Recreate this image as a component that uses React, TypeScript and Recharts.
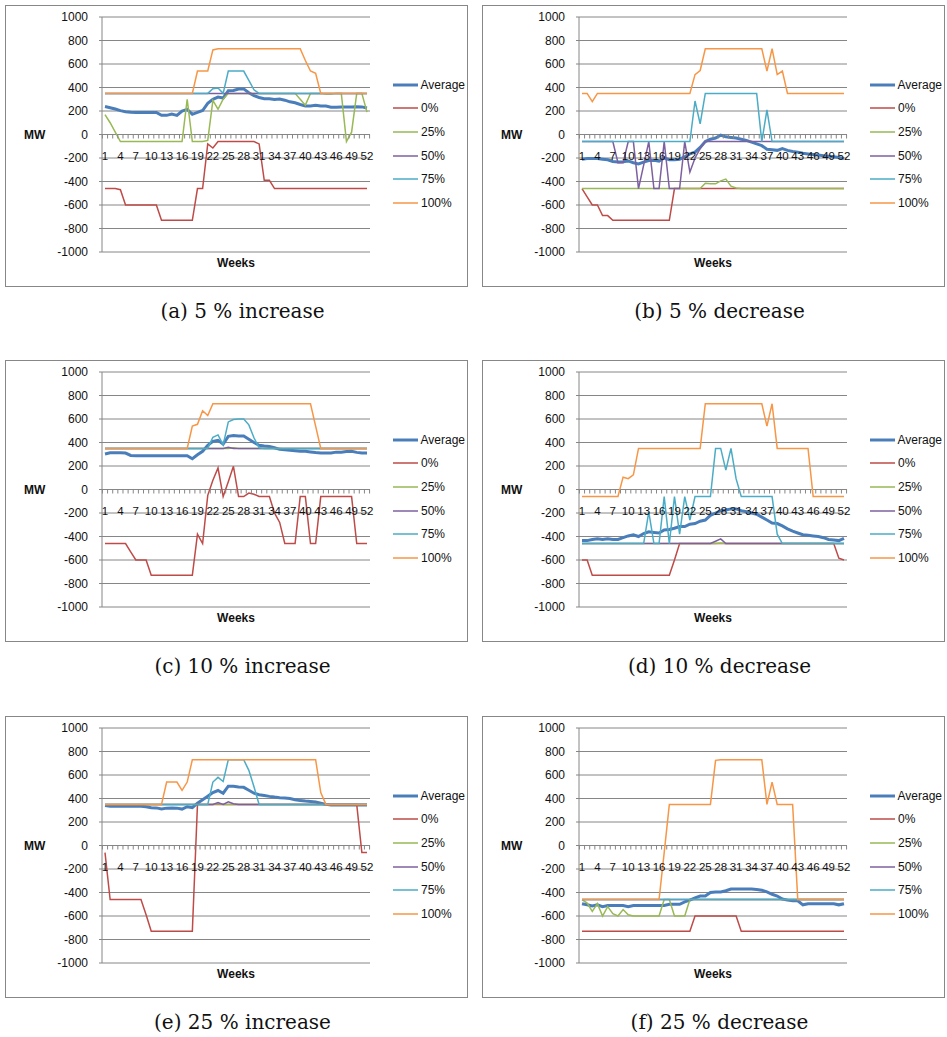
import React from 'react'
import { CartesianGrid, Label, Legend, Line, LineChart, XAxis, YAxis } from 'recharts'

const weeks = [
  1, 2, 3, 4, 5, 6, 7, 8, 9, 10, 11, 12, 13,
  14, 15, 16, 17, 18, 19, 20, 21, 22, 23, 24, 25, 26,
  27, 28, 29, 30, 31, 32, 33, 34, 35, 36, 37, 38, 39,
  40, 41, 42, 43, 44, 45, 46, 47, 48, 49, 50, 51, 52,
]
const yTicks = [-1000, -800, -600, -400, -200, 0, 200, 400, 600, 800, 1000]
const seriesKeys = ['avg', 'p0', 'p25', 'p50', 'p75', 'p100']
const seriesNames = ['Average', '0%', '25%', '50%', '75%', '100%']
const seriesColors = ['#4A7EBB', '#BE4B48', '#98B954', '#7D60A0', '#4BACC6', '#F79646']
const seriesWidths = [3, 1.5, 1.5, 1.5, 1.5, 1.5]

// (a) 5 % increase
const aAvg = [
  238, 228, 217, 203, 194, 190, 188, 188, 188, 188, 188, 163, 163,
  174, 163, 200, 214, 172, 188, 204, 265, 300, 318, 310, 372, 374,
  387, 388, 355, 330, 315, 305, 305, 298, 302, 292, 278, 270, 255,
  243, 243, 248, 242, 242, 232, 232, 235, 235, 235, 236, 235, 226,
]
const a0 = [
  -460, -460, -460, -470, -600, -600, -600, -600, -600, -600, -600, -730, -730,
  -730, -730, -730, -730, -730, -460, -460, -80, -115, -60, -60, -60, -60,
  -60, -60, -60, -60, -80, -390, -390, -460, -460, -460, -460, -460, -460,
  -460, -460, -460, -460, -460, -460, -460, -460, -460, -460, -460, -460, -460,
]
const a25 = [
  170, 100, 20, -60, -60, -60, -60, -60, -60, -60, -60, -60, -60,
  -60, -60, -60, 300, -60, -60, -60, -50, 290, 215, 300, 350, 350,
  350, 350, 350, 350, 350, 350, 350, 350, 350, 350, 350, 350, 300,
  250, 350, 350, 350, 345, 345, 350, 350, -60, 20, 350, 350, 190,
]
const a50 = [
  350, 350, 350, 350, 350, 350, 350, 350, 350, 350, 350, 350, 350,
  350, 350, 350, 350, 350, 350, 350, 350, 350, 350, 350, 350, 350,
  350, 350, 350, 350, 350, 350, 350, 350, 350, 350, 350, 350, 350,
  350, 350, 350, 350, 350, 350, 350, 350, 350, 350, 350, 350, 350,
]
const a75 = [
  350, 350, 350, 350, 350, 350, 350, 350, 350, 350, 350, 350, 350,
  350, 350, 350, 350, 350, 350, 350, 350, 390, 395, 350, 540, 540,
  540, 540, 460, 380, 350, 350, 350, 350, 350, 350, 350, 350, 350,
  350, 350, 350, 350, 350, 350, 350, 350, 350, 350, 350, 350, 350,
]
const a100 = [
  350, 350, 350, 350, 350, 350, 350, 350, 350, 350, 350, 350, 350,
  350, 350, 350, 350, 350, 540, 540, 540, 720, 730, 730, 730, 730,
  730, 730, 730, 730, 730, 730, 730, 730, 730, 730, 730, 730, 730,
  630, 540, 520, 350, 350, 350, 350, 350, 350, 350, 350, 350, 350,
]

// (b) 5 % decrease
const bAvg = [
  -210, -205, -205, -205, -210, -215, -230, -235, -232, -225, -240, -250, -235,
  -222, -220, -228, -200, -215, -215, -210, -190, -165, -150, -110, -60, -40,
  -30, -5, -20, -25, -30, -40, -50, -65, -80, -95, -125, -130, -135,
  -120, -135, -145, -150, -160, -165, -170, -175, -180, -185, -190, -195, -205,
]
const b0 = [
  -460, -530, -600, -600, -690, -690, -730, -730, -730, -730, -730, -730, -730,
  -730, -730, -730, -730, -730, -460, -460, -460, -460, -460, -460, -460, -460,
  -460, -460, -460, -460, -460, -460, -460, -460, -460, -460, -460, -460, -460,
  -460, -460, -460, -460, -460, -460, -460, -460, -460, -460, -460, -460, -460,
]
const b25 = [
  -460, -460, -460, -460, -460, -460, -460, -460, -460, -460, -460, -460, -460,
  -460, -460, -460, -460, -460, -460, -460, -460, -460, -460, -460, -415, -420,
  -420, -395, -380, -440, -455, -460, -460, -460, -460, -460, -460, -460, -460,
  -460, -460, -460, -460, -460, -460, -460, -460, -460, -460, -460, -460, -460,
]
const b50 = [
  -60, -60, -60, -60, -60, -60, -60, -240, -240, -60, -60, -460, -260,
  -60, -460, -460, -60, -460, -460, -460, -60, -320, -200, -120, -60, -60,
  -60, -60, -60, -60, -60, -60, -60, -60, -60, -60, -60, -60, -60,
  -60, -60, -60, -60, -60, -60, -60, -60, -60, -60, -60, -60, -60,
]
const b75 = [
  -60, -60, -60, -60, -60, -60, -60, -60, -60, -60, -60, -60, -60,
  -60, -60, -60, -60, -60, -60, -60, -60, -60, 285, 90, 350, 350,
  350, 350, 350, 350, 350, 350, 350, 350, 350, -60, 210, -60, -60,
  -60, -60, -60, -60, -60, -60, -60, -60, -60, -60, -60, -60, -60,
]
const b100 = [
  350, 350, 280, 350, 350, 350, 350, 350, 350, 350, 350, 350, 350,
  350, 350, 350, 350, 350, 350, 350, 350, 350, 510, 545, 730, 730,
  730, 730, 730, 730, 730, 730, 730, 730, 730, 730, 540, 730, 510,
  540, 350, 350, 350, 350, 350, 350, 350, 350, 350, 350, 350, 350,
]

// (c) 10 % increase
const cAvg = [
  302, 312, 312, 312, 310, 290, 288, 288, 288, 288, 288, 288, 288,
  288, 288, 288, 288, 262, 295, 325, 376, 410, 418, 387, 452, 460,
  456, 455, 428, 400, 376, 370, 366, 355, 342, 338, 334, 330, 326,
  325, 320, 314, 310, 310, 311, 318, 318, 323, 325, 316, 310, 310,
]
const c0 = [
  -460, -460, -460, -460, -460, -530, -600, -600, -600, -730, -730, -730, -730,
  -730, -730, -730, -730, -730, -380, -460, -50, 78, 183, -60, 65, 197,
  -60, -60, -30, -40, -60, -60, -60, -200, -280, -460, -460, -460, -60,
  -60, -460, -460, -60, -60, -60, -60, -60, -60, -60, -460, -460, -460,
]
const c25 = [
  350, 350, 350, 350, 350, 350, 350, 350, 350, 350, 350, 350, 350,
  350, 350, 350, 350, 350, 350, 350, 350, 350, 350, 350, 350, 355,
  350, 350, 350, 350, 350, 350, 350, 350, 350, 350, 350, 350, 350,
  350, 350, 350, 350, 350, 350, 350, 350, 350, 350, 350, 350, 350,
]
const c50 = [
  350, 350, 350, 350, 350, 350, 350, 350, 350, 350, 350, 350, 350,
  350, 350, 350, 350, 350, 350, 350, 350, 350, 350, 350, 360, 350,
  350, 350, 350, 350, 350, 350, 350, 350, 350, 350, 350, 350, 350,
  350, 350, 350, 350, 350, 350, 350, 350, 350, 350, 350, 350, 350,
]
const c75 = [
  350, 350, 350, 350, 350, 350, 350, 350, 350, 350, 350, 350, 350,
  350, 350, 350, 350, 350, 350, 350, 350, 445, 465, 380, 575, 595,
  600, 600, 550, 440, 355, 350, 350, 350, 350, 350, 350, 350, 350,
  350, 350, 350, 350, 350, 350, 350, 350, 350, 350, 350, 350, 350,
]
const c100 = [
  350, 350, 350, 350, 350, 350, 350, 350, 350, 350, 350, 350, 350,
  350, 350, 350, 350, 540, 555, 670, 630, 730, 730, 730, 730, 730,
  730, 730, 730, 730, 730, 730, 730, 730, 730, 730, 730, 730, 730,
  730, 730, 540, 350, 350, 350, 350, 350, 350, 350, 350, 350, 350,
]

// (d) 10 % decrease
const dAvg = [
  -435, -435, -425, -420, -425, -420, -425, -425, -410, -395, -385, -400, -375,
  -360, -365, -370, -345, -340, -330, -315, -315, -295, -290, -270, -260, -220,
  -200, -180, -175, -165, -165, -180, -190, -200, -210, -235, -260, -285, -290,
  -310, -335, -355, -370, -385, -390, -395, -400, -410, -425, -430, -435, -415,
]
const d0 = [
  -600, -600, -730, -730, -730, -730, -730, -730, -730, -730, -730, -730, -730,
  -730, -730, -730, -730, -730, -600, -460, -460, -460, -460, -460, -460, -460,
  -460, -460, -460, -460, -460, -460, -460, -460, -460, -460, -460, -460, -460,
  -460, -460, -460, -460, -460, -460, -460, -460, -460, -460, -460, -585, -600,
]
const d25 = [
  -460, -460, -460, -460, -460, -460, -460, -460, -460, -460, -460, -460, -460,
  -460, -460, -460, -460, -460, -460, -460, -460, -460, -460, -460, -460, -460,
  -460, -455, -460, -460, -460, -460, -460, -460, -460, -460, -460, -460, -460,
  -460, -460, -460, -460, -460, -460, -460, -460, -460, -460, -460, -460, -460,
]
const d50 = [
  -460, -460, -460, -460, -460, -460, -460, -460, -460, -460, -460, -460, -460,
  -460, -460, -460, -460, -460, -460, -460, -460, -460, -460, -460, -460, -460,
  -440, -420, -460, -460, -460, -460, -460, -460, -460, -460, -460, -460, -460,
  -460, -460, -460, -460, -460, -460, -460, -460, -460, -460, -460, -460, -460,
]
const d75 = [
  -460, -460, -460, -460, -460, -460, -460, -460, -460, -460, -460, -460, -460,
  -190, -460, -460, -60, -460, -60, -380, -60, -260, -60, -60, -60, -60,
  350, 350, 165, 350, 90, -60, -60, -60, -60, -60, -60, -60, -380,
  -460, -460, -460, -460, -460, -460, -460, -460, -460, -460, -460, -460, -460,
]
const d100 = [
  -60, -60, -60, -60, -60, -60, -60, -60, 105, 92, 125, 350, 350,
  350, 350, 350, 350, 350, 350, 350, 350, 350, 350, 350, 730, 730,
  730, 730, 730, 730, 730, 730, 730, 730, 730, 730, 540, 730, 350,
  350, 350, 350, 350, 350, 350, -60, -60, -60, -60, -60, -60, -60,
]

// (e) 25 % increase
const eAvg = [
  340, 335, 335, 335, 335, 335, 335, 335, 330, 322, 320, 310, 318,
  320, 318, 310, 330, 322, 360, 390, 420, 450, 468, 445, 505, 505,
  498, 495, 470, 445, 432, 425, 418, 412, 407, 405, 400, 390, 382,
  378, 375, 370, 360, 350, 345, 345, 345, 345, 345, 345, 345, 345,
]
const e0 = [
  -60, -460, -460, -460, -460, -460, -460, -460, -590, -730, -730, -730, -730,
  -730, -730, -730, -730, -730, 350, 350, 350, 350, 350, 350, 350, 350,
  350, 350, 350, 350, 350, 350, 350, 350, 350, 350, 350, 350, 350,
  350, 350, 350, 350, 350, 350, 350, 350, 350, 350, 350, -60, -60,
]
const e25 = [
  350, 350, 350, 350, 350, 350, 350, 350, 350, 350, 350, 350, 350,
  350, 350, 350, 350, 350, 350, 350, 350, 350, 355, 350, 350, 350,
  350, 350, 350, 350, 350, 350, 350, 350, 350, 350, 350, 350, 350,
  350, 350, 350, 350, 350, 350, 350, 350, 350, 350, 350, 350, 350,
]
const e50 = [
  350, 350, 350, 350, 350, 350, 350, 350, 350, 350, 350, 350, 350,
  350, 350, 350, 350, 350, 350, 350, 350, 350, 365, 350, 372, 355,
  350, 350, 350, 350, 350, 350, 350, 350, 350, 350, 350, 350, 350,
  350, 350, 350, 350, 350, 350, 350, 350, 350, 350, 350, 350, 350,
]
const e75 = [
  350, 350, 350, 350, 350, 350, 350, 350, 350, 350, 350, 350, 350,
  350, 350, 350, 350, 350, 350, 350, 350, 540, 580, 545, 730, 730,
  730, 730, 640, 500, 350, 350, 350, 350, 350, 350, 350, 350, 350,
  350, 350, 350, 350, 350, 350, 350, 350, 350, 350, 350, 350, 350,
]
const e100 = [
  350, 350, 350, 350, 350, 350, 350, 350, 350, 350, 350, 350, 540,
  540, 540, 470, 540, 730, 730, 730, 730, 730, 730, 730, 730, 730,
  730, 730, 730, 730, 730, 730, 730, 730, 730, 730, 730, 730, 730,
  730, 730, 730, 450, 350, 350, 350, 350, 350, 350, 350, 350, 350,
]

// (f) 25 % decrease
const fAvg = [
  -495, -505, -515, -505, -520, -510, -510, -510, -510, -520, -510, -510, -510,
  -510, -510, -510, -510, -500, -500, -500, -480, -465, -445, -430, -430, -400,
  -395, -395, -385, -370, -370, -370, -370, -370, -375, -380, -395, -415, -430,
  -455, -465, -470, -470, -505, -495, -495, -495, -495, -495, -495, -505, -495,
]
const f0 = [
  -730, -730, -730, -730, -730, -730, -730, -730, -730, -730, -730, -730, -730,
  -730, -730, -730, -730, -730, -730, -730, -730, -730, -600, -600, -600, -600,
  -600, -600, -600, -600, -600, -730, -730, -730, -730, -730, -730, -730, -730,
  -730, -730, -730, -730, -730, -730, -730, -730, -730, -730, -730, -730, -730,
]
const f25 = [
  -460, -490, -560, -495, -600, -520, -580, -600, -545, -590, -600, -600, -600,
  -600, -600, -600, -460, -460, -600, -600, -600, -460, -460, -460, -460, -460,
  -460, -460, -460, -460, -460, -460, -460, -460, -460, -460, -460, -460, -460,
  -460, -460, -460, -460, -460, -460, -460, -460, -460, -460, -460, -460, -460,
]
const f50 = [
  -460, -460, -460, -460, -460, -460, -460, -460, -460, -460, -460, -460, -460,
  -460, -460, -460, -460, -460, -460, -460, -460, -460, -460, -460, -460, -460,
  -460, -460, -460, -460, -460, -460, -460, -460, -460, -460, -460, -460, -460,
  -460, -460, -460, -460, -460, -460, -460, -460, -460, -460, -460, -460, -460,
]
const f75 = [
  -460, -460, -460, -460, -460, -460, -460, -460, -460, -460, -460, -460, -460,
  -460, -460, -460, -460, -460, -460, -460, -460, -460, -460, -460, -460, -460,
  -460, -460, -460, -460, -460, -460, -460, -460, -460, -460, -460, -460, -460,
  -460, -460, -460, -460, -460, -460, -460, -460, -460, -460, -460, -460, -460,
]
const f100 = [
  -460, -460, -460, -460, -460, -460, -460, -460, -460, -460, -460, -460, -460,
  -460, -460, -460, -60, 350, 350, 350, 350, 350, 350, 350, 350, 350,
  725, 730, 730, 730, 730, 730, 730, 730, 730, 730, 350, 540, 350,
  350, 350, 350, -460, -460, -460, -460, -460, -460, -460, -460, -460, -460,
]

const panels = [
  { caption: '(a) 5 % increase', series: [aAvg, a0, a25, a50, a75, a100] },
  { caption: '(b) 5 % decrease', series: [bAvg, b0, b25, b50, b75, b100] },
  { caption: '(c) 10 % increase', series: [cAvg, c0, c25, c50, c75, c100] },
  { caption: '(d) 10 % decrease', series: [dAvg, d0, d25, d50, d75, d100] },
  { caption: '(e) 25 % increase', series: [eAvg, e0, e25, e50, e75, e100] },
  { caption: '(f) 25 % decrease', series: [fAvg, f0, f25, f50, f75, f100] },
]

const FONT = '"Liberation Sans", Arial, sans-serif'
const GRID = '#868686'
const PANEL_W = 463
const PANEL_H = 282
const CHART_W = PANEL_W - 2
const CHART_H = PANEL_H - 2
const MARGIN = { top: 11, right: 97, bottom: 0, left: 0 }
const Y_AXIS_W = 96
const PLOT_H = 235
const X_AXIS_H = CHART_H - MARGIN.top - PLOT_H
const PLOT_W = CHART_W - Y_AXIS_W - MARGIN.right
const X_PAD = 3
const HALF_STEP = (PLOT_W - 2 * X_PAD) / (weeks.length - 1) / 2
// the category axis crosses the value axis at 0
const ZERO_Y = MARGIN.top + PLOT_H / 2

const PANEL_LEFT = [5, 482]
const PANEL_TOP = [5, 360, 716]

function WeekTick(props: any) {
  const { x, payload, index } = props
  const showLabel = (payload.value - 1) % 3 === 0
  return (
    <g>
      <line x1={x - HALF_STEP} x2={x - HALF_STEP} y1={ZERO_Y} y2={ZERO_Y + 4} stroke={GRID} />
      {index === weeks.length - 1 && (
        <line x1={x + HALF_STEP} x2={x + HALF_STEP} y1={ZERO_Y} y2={ZERO_Y + 4} stroke={GRID} />
      )}
      {showLabel && (
        <text
          x={x}
          y={ZERO_Y + 21}
          textAnchor="middle"
          dominantBaseline="central"
          fontSize={11.5}
          fontFamily={FONT}
          fill="#111"
        >
          {payload.value}
        </text>
      )}
    </g>
  )
}

function LegendList() {
  return (
    <div style={{ fontFamily: FONT, fontSize: 12, color: '#111' }}>
      {seriesNames.map((name, i) => (
        <div key={name} style={{ display: 'flex', alignItems: 'center', height: 23.6 }}>
          <svg width={25} height={6} style={{ display: 'block' }}>
            <line x1={0} x2={25} y1={3} y2={3} stroke={seriesColors[i]} strokeWidth={seriesWidths[i]} />
          </svg>
          <span style={{ marginLeft: 3, lineHeight: '14px' }}>{name}</span>
        </div>
      ))}
    </div>
  )
}

function PanelChart({ series }: { series: number[][] }) {
  const data = weeks.map((week, j) => {
    const row: Record<string, number> = { week }
    seriesKeys.forEach((key, k) => {
      row[key] = series[k][j]
    })
    return row
  })

  return (
    <LineChart width={CHART_W} height={CHART_H} data={data} margin={MARGIN}>
      <CartesianGrid vertical={false} stroke={GRID} />
      <XAxis
        dataKey="week"
        interval={0}
        height={X_AXIS_H}
        padding={{ left: X_PAD, right: X_PAD }}
        axisLine={false}
        tickLine={false}
        tick={WeekTick}
      >
        <Label
          value="Weeks"
          position="insideBottom"
          offset={19}
          style={{ fontFamily: FONT, fontSize: 12, fontWeight: 'bold', fill: '#111' }}
        />
      </XAxis>
      <YAxis
        type="number"
        domain={[-1000, 1000]}
        ticks={yTicks}
        interval={0}
        width={Y_AXIS_W}
        axisLine={{ stroke: GRID }}
        tickLine={{ stroke: GRID }}
        tickSize={3}
        tickMargin={11}
        tick={{ fontSize: 12, fontFamily: FONT, fill: '#111' }}
      >
        <Label
          value="MW"
          position="insideLeft"
          offset={18}
          style={{ fontFamily: FONT, fontSize: 12, fontWeight: 'bold', fill: '#111' }}
        />
      </YAxis>
      <Legend
        layout="vertical"
        align="center"
        verticalAlign="middle"
        wrapperStyle={{ left: 387, top: 67, width: 72 }}
        content={() => <LegendList />}
      />
      {seriesKeys.map((key, i) => (
        <Line
          key={key}
          type="linear"
          dataKey={key}
          name={seriesNames[i]}
          stroke={seriesColors[i]}
          strokeWidth={seriesWidths[i]}
          dot={false}
          activeDot={false}
          isAnimationActive={false}
        />
      ))}
    </LineChart>
  )
}

export default function App() {
  return (
    <div
      style={{
        position: 'absolute',
        left: 0,
        top: 0,
        width: 947,
        height: 1037,
        background: '#fff',
      }}
    >
      {panels.map((panel, i) => {
        const left = PANEL_LEFT[i % 2]
        const top = PANEL_TOP[Math.floor(i / 2)]
        return (
          <React.Fragment key={panel.caption}>
            <div
              style={{
                position: 'absolute',
                left,
                top,
                width: PANEL_W,
                height: PANEL_H,
                boxSizing: 'border-box',
                border: '1px solid #878787',
              }}
            >
              <PanelChart series={panel.series} />
            </div>
            <div
              style={{
                position: 'absolute',
                left: left + 6,
                top: top + 294,
                width: PANEL_W,
                textAlign: 'center',
                fontFamily: '"DejaVu Serif", serif',
                fontSize: 20,
                lineHeight: '24px',
                color: '#111',
              }}
            >
              {panel.caption}
            </div>
          </React.Fragment>
        )
      })}
    </div>
  )
}
